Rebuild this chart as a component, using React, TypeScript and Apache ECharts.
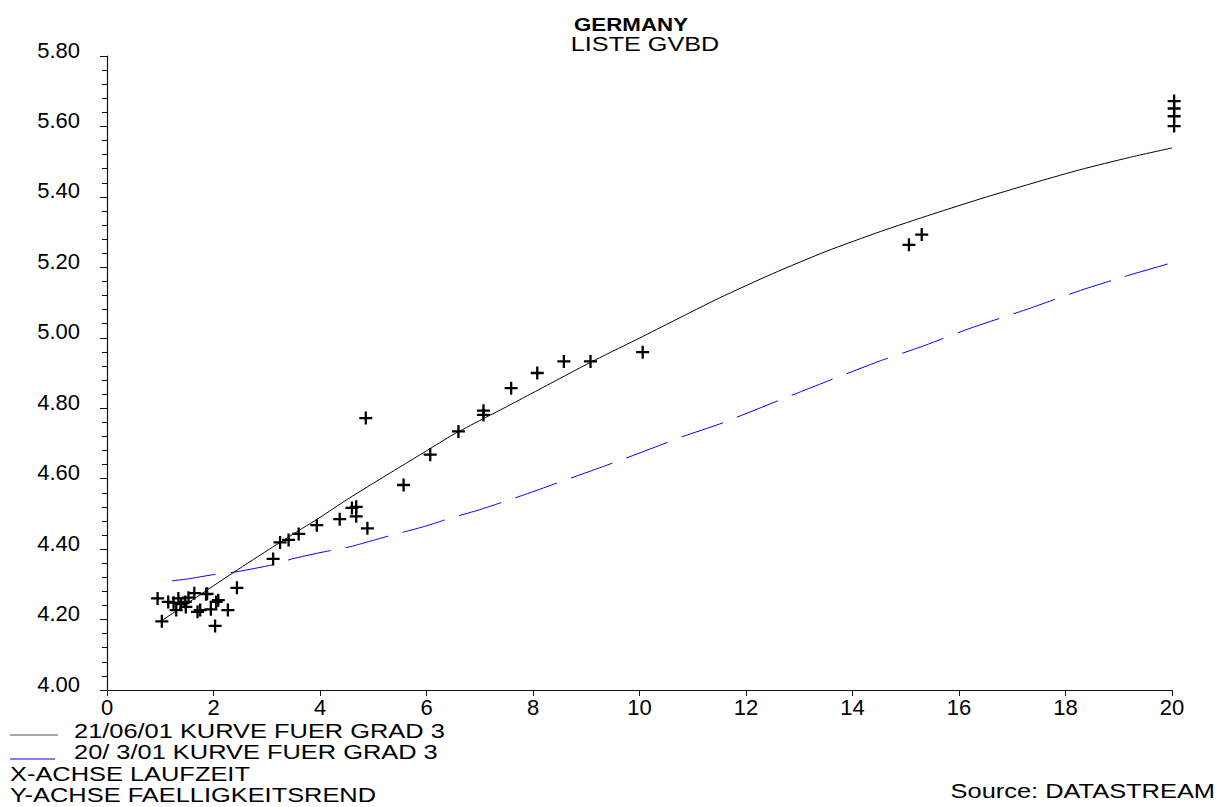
import React, { useEffect, useRef } from "react";
import * as echarts from "echarts";

// ---- Data ----
const titleMain = "GERMANY";
const titleSub = "LISTE GVBD";
const legendLabels = ["21/06/01 KURVE FUER GRAD 3", "20/ 3/01 KURVE FUER GRAD 3"];
const axisNotes = ["X-ACHSE LAUFZEIT", "Y-ACHSE FAELLIGKEITSREND"];
const sourceText = "Source: DATASTREAM";

// Curve 21/06/01 (black, solid)
const curveAX = [1.03, 1.5, 2.0, 2.5, 3.0, 3.5, 4.0, 4.5, 5.0, 5.5, 6.0, 6.5, 7.0, 7.5, 8.0, 8.5, 9.0, 9.5, 10.0, 10.64, 11.5, 12.5, 13.5, 14.53, 15.5, 16.5, 17.5, 18.27, 19.2, 20];
const curveAY = [4.197, 4.245, 4.296, 4.346, 4.395, 4.443, 4.49, 4.54, 4.587, 4.633, 4.679, 4.725, 4.765, 4.804, 4.844, 4.884, 4.924, 4.962, 4.999, 5.048, 5.113, 5.182, 5.245, 5.302, 5.351, 5.399, 5.444, 5.477, 5.512, 5.539];

// Curve 20/3/01 (blue, dashed)
const curveBX = [1.22, 1.5, 2.06, 2.37, 3.16, 3.47, 4.0, 4.57, 5.0, 5.38, 5.66, 6.0, 6.45, 7.0, 7.56, 8.0, 8.66, 9.2, 9.74, 10.3, 10.82, 11.5, 12.5, 13.5, 14.53, 15.3, 16.19, 17.26, 18.33, 19.2, 20.0];
const curveBY = [4.31, 4.315, 4.329, 4.334, 4.357, 4.372, 4.39, 4.407, 4.425, 4.441, 4.452, 4.466, 4.488, 4.512, 4.54, 4.563, 4.599, 4.628, 4.658, 4.69, 4.72, 4.755, 4.815, 4.875, 4.935, 4.975, 5.026, 5.08, 5.137, 5.178, 5.213];

// Bond yields (crosses)
const bondX = [0.95, 1.03, 1.15, 1.25, 1.30, 1.34, 1.39, 1.47, 1.48, 1.53, 1.64, 1.70, 1.75, 1.86, 1.88, 1.95, 2.05, 2.09, 2.03, 2.27, 2.44,
  3.12, 3.25, 3.41, 3.60, 3.94, 4.37, 4.60, 4.68, 4.68, 4.89, 4.86, 5.57, 6.07, 6.60, 7.07, 7.07, 7.59, 8.08, 8.58, 9.08, 10.06,
  15.06, 15.30, 20.04, 20.04, 20.04, 20.04];
const bondY = [4.26, 4.195, 4.25, 4.248, 4.227, 4.26, 4.244, 4.25, 4.236, 4.262, 4.275, 4.222, 4.227, 4.272, 4.273, 4.229, 4.25, 4.255, 4.182, 4.227, 4.29,
  4.372, 4.419, 4.426, 4.443, 4.468, 4.485, 4.517, 4.52, 4.493, 4.459, 4.772, 4.582, 4.668, 4.734, 4.793, 4.781, 4.857, 4.9, 4.933, 4.933, 4.959,
  5.264, 5.293, 5.672, 5.651, 5.629, 5.601];

const FONT = "'Liberation Sans', Arial, Helvetica, sans-serif";
const CROSS = "path://M0,5.35 H13 V7.65 H0 Z M5.35,0 H7.65 V13 H5.35 Z";

function zip(xs: number[], ys: number[]) {
  return xs.map((x, i) => [x, ys[i]]);
}

export default function App() {
  const ref = useRef<HTMLDivElement>(null);

  useEffect(() => {
    if (!ref.current) return;
    const chart = echarts.init(ref.current, undefined, { renderer: "svg" });

    const textEl = (text: string, x: number, y: number, opts: any = {}) => ({
      type: "text",
      x,
      y,
      scaleX: opts.scaleX ?? 1.27,
      silent: true,
      style: {
        text,
        fill: "#000",
        font: `${opts.bold ? "bold " : ""}${opts.size ?? 20}px ${FONT}`,
        textAlign: opts.align ?? "left",
        textVerticalAlign: "middle",
        align: opts.align ?? "left",
        verticalAlign: "middle",
      },
    });

    chart.setOption({
      animation: false,
      backgroundColor: "#fff",
      grid: { left: 107, right: 49, top: 56, bottom: 117, containLabel: false },
      xAxis: {
        type: "value",
        min: 0,
        max: 20,
        interval: 2,
        axisLine: { onZero: false, lineStyle: { color: "#111", width: 1.2 } },
        axisTick: { show: true, inside: false, length: 6, lineStyle: { color: "#111" } },
        axisLabel: { fontFamily: FONT, fontSize: 22, color: "#000", margin: 6 },
        splitLine: { show: false },
      },
      yAxis: {
        type: "value",
        min: 4,
        max: 5.8,
        interval: 0.2,
        axisLine: { show: true, onZero: false, lineStyle: { color: "#111", width: 1.2 } },
        axisTick: { show: true, inside: false, length: 7, lineStyle: { color: "#111" } },
        minorTick: { show: true, splitNumber: 5, length: 5, lineStyle: { color: "#111" } },
        axisLabel: {
          fontFamily: FONT,
          fontSize: 22,
          color: "#000",
          margin: 27,
          verticalAlign: "bottom",
          lineHeight: 12,
          formatter: (v: number) => v.toFixed(2),
        },
        splitLine: { show: false },
        minorSplitLine: { show: false },
      },
      series: [
        {
          name: legendLabels[0],
          type: "line",
          data: zip(curveAX, curveAY),
          showSymbol: false,
          smooth: 0.2,
          lineStyle: { color: "#000", width: 1 },
          z: 3,
        },
        {
          name: legendLabels[1],
          type: "line",
          data: zip(curveBX, curveBY),
          showSymbol: false,
          smooth: 0.2,
          lineStyle: { color: "#0000ff", width: 1, type: [44, 15] },
          z: 2,
        },
        {
          name: "Bonds",
          type: "scatter",
          data: zip(bondX, bondY),
          symbol: CROSS,
          symbolSize: 13,
          clip: false,
          itemStyle: { color: "#000", opacity: 1 },
          z: 4,
        },
      ],
      graphic: [
        textEl(titleMain, 631, 25, { bold: true, size: 18, align: "center", scaleX: 1.24 }),
        textEl(titleSub, 645, 44, { size: 20, align: "center", scaleX: 1.26 }),
        {
          type: "line",
          silent: true,
          shape: { x1: 10, y1: 735, x2: 58, y2: 735 },
          style: { stroke: "#555", lineWidth: 1 },
        },
        {
          type: "line",
          silent: true,
          shape: { x1: 10, y1: 759, x2: 55, y2: 759 },
          style: { stroke: "#0000ff", lineWidth: 1 },
        },
        textEl(legendLabels[0], 74, 731),
        textEl(legendLabels[1], 74, 752),
        textEl(axisNotes[0], 10, 774.5),
        textEl(axisNotes[1], 10, 795.5),
        textEl(sourceText, 1215, 791, { align: "right" }),
      ],
    });

    return () => chart.dispose();
  }, []);

  return (
    <div
      ref={ref}
      style={{ position: "absolute", left: 0, top: 0, width: 1221, height: 807, background: "#fff" }}
    />
  );
}
